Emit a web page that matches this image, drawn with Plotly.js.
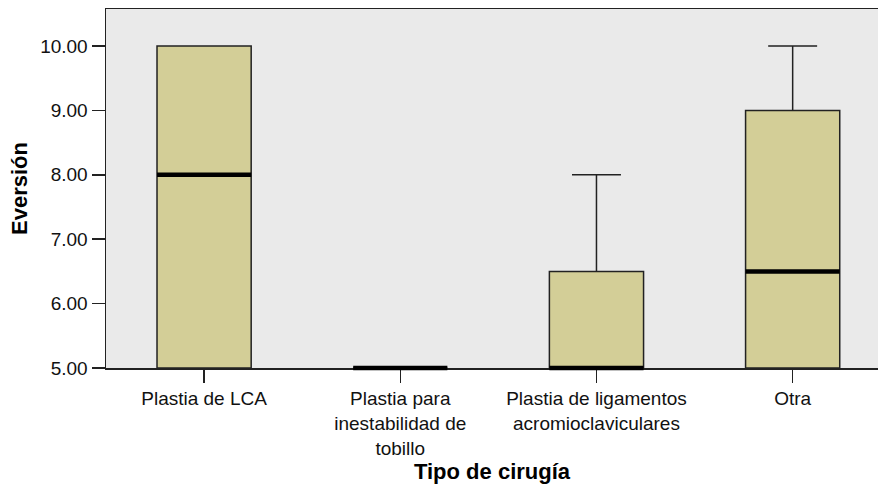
<!DOCTYPE html>
<html>
<head>
<meta charset="utf-8">
<script src="https://cdn.plot.ly/plotly-3.0.1.min.js"></script>
<style>html,body{margin:0;padding:0;background:#fff;}#chart{width:878px;height:485px;}</style>
</head>
<body>
<div id="chart"></div>
<script>
// Categories (x axis) and box statistics
const categories = ["Plastia de LCA", "Plastia para<br>inestabilidad de<br>tobillo", "Plastia de ligamentos<br>acromioclaviculares", "Otra"];
const positions = [0, 1, 2, 3];
const q1 = [5, 5, 5, 5];
const medians = [8, 5, 5, 6.5];
const q3 = [10, 5, 6.5, 9];
const lowerFence = [5, 5, 5, 5];
const upperFence = [10, 5, 8, 10];
const yTicks = [5, 6, 7, 8, 9, 10];
const yTickText = ["5.00", "6.00", "7.00", "8.00", "9.00", "10.00"];

const W = 878, H = 485;
const margin = {l: 106, r: 0, t: 9, b: 117};
const xRange = [-0.5, 3.435];
const boxWidth = 0.48;

const boxTrace = {
  type: "box",
  x: positions,
  q1: q1,
  median: medians,
  q3: q3,
  lowerfence: lowerFence,
  upperfence: upperFence,
  width: boxWidth,
  whiskerwidth: 0.52,
  fillcolor: "#D3CE97",
  line: {color: "#222222", width: 1.5},
  boxpoints: false,
  hoverinfo: "skip",
  showlegend: false
};

// Thick median bars: horizontal line markers (not clipped at the axis), sized to the box width
const pxPerUnit = (W - margin.l - margin.r) / (xRange[1] - xRange[0]);
const medianTrace = {
  type: "scatter",
  mode: "markers",
  x: positions,
  y: medians,
  cliponaxis: false,
  marker: {
    symbol: "line-ew",
    size: boxWidth * pxPerUnit / 1.4,
    line: {color: "#000000", width: 4.5}
  },
  hoverinfo: "skip",
  showlegend: false
};

const font = {family: "Liberation Sans, Arial, sans-serif", size: 19, color: "#111"};
const titleFont = {family: "Liberation Sans, Arial, sans-serif", size: 22, color: "#000", weight: "bold"};

const layout = {
  width: W,
  height: H,
  margin: margin,
  paper_bgcolor: "#ffffff",
  plot_bgcolor: "#EAEAEA",
  font: font,
  showlegend: false,
  xaxis: {
    range: xRange,
    tickmode: "array",
    tickvals: positions,
    ticktext: categories,
    ticks: "outside",
    ticklen: 13,
    tickwidth: 1.5,
    tickcolor: "#222",
    showgrid: false,
    zeroline: false,
    showline: true,
    mirror: true,
    linecolor: "#222",
    linewidth: 1.5,
    layer: "below traces",
    tickfont: font,
    title: {text: "Tipo de cirugía", font: titleFont, standoff: 1}
  },
  yaxis: {
    range: [5, 10.575],
    tickmode: "array",
    tickvals: yTicks,
    ticktext: yTickText,
    ticks: "outside",
    ticklen: 13,
    tickwidth: 1.5,
    tickcolor: "#222",
    showgrid: false,
    zeroline: false,
    showline: true,
    mirror: true,
    linecolor: "#222",
    linewidth: 1.5,
    tickfont: font,
    title: {text: "Eversión", font: titleFont, standoff: 6}
  }
};

Plotly.newPlot("chart", [boxTrace, medianTrace], layout, {staticPlot: true, displayModeBar: false});
</script>
</body>
</html>
